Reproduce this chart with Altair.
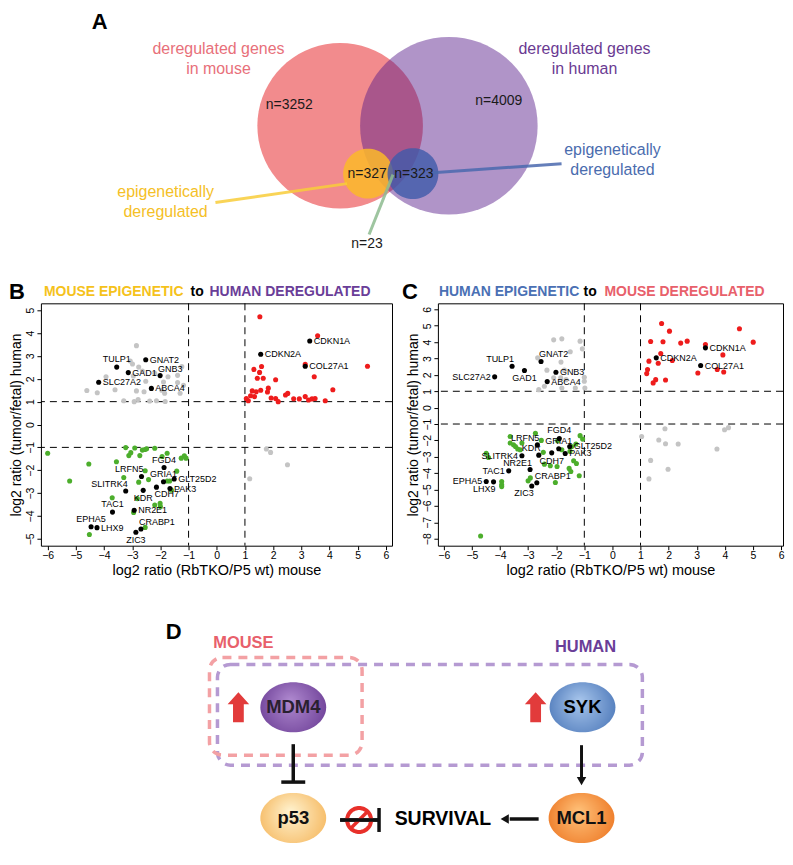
import math
import altair as alt
import pandas as pd

FONT = "Liberation Sans"

# ======================= DATA =======================
# ---- Panel A (Venn) ----
venn_labels = ["deregulated genes\nin mouse", "deregulated genes\nin human",
               "epigenetically\nderegulated", "epigenetically\nderegulated"]
venn_counts = ["n=3252", "n=4009", "n=327", "n=323"]
overlap_count = "n=23"

# ---- Panels B / C : labelled genes ----
genes = ["CDKN1A", "CDKN2A", "COL27A1", "TULP1", "GNAT2", "GAD1", "GNB3", "SLC27A2", "ABCA4",
         "FGD4", "LRFN5", "GRIA1", "GLT25D2", "PAK3", "SLITRK4", "KDR", "CDH7", "TAC1",
         "NR2E1", "CRABP1", "ZIC3", "EPHA5", "LHX9"]

B_gene_x = [3.30, 1.56, 3.14, -3.55, -2.52, -3.14, -2.01, -4.19, -2.32, -1.87, -2.67, -1.89,
            -1.51, -1.66, -3.23, -2.61, -2.14, -3.70, -2.93, -2.69, -2.87, -4.46, -4.25]
B_gene_y = [3.65, 3.07, 2.55, 2.51, 2.83, 2.27, 2.14, 1.85, 1.58, -1.88, -2.27, -2.50,
            -2.38, -2.80, -2.91, -2.88, -2.74, -3.83, -3.75, -4.57, -4.71, -4.47, -4.51]
B_label_pos = ["r", "r", "r", "u", "r", "r", "ur", "r", "r", "u", "ul", "u", "r", "r", "ul",
               "d", "dr", "u", "r", "ur", "d", "u", "r"]

C_gene_x = [3.31, 1.56, 3.14, -3.57, -2.54, -3.13, -2.01, -4.19, -2.32, -1.89, -2.67, -1.91,
            -1.52, -1.68, -3.22, -2.62, -2.16, -3.69, -2.93, -2.69, -2.87, -4.49, -4.23]
C_gene_y = [3.65, 3.04, 2.57, 2.53, 2.82, 2.27, 2.16, 1.88, 1.59, -1.88, -2.27, -2.51,
            -2.37, -2.80, -2.94, -2.90, -2.76, -3.86, -3.78, -4.59, -4.78, -4.51, -4.53]
C_label_pos = ["r", "r", "r", "ul", "ur", "d", "r", "l", "r", "u", "ul", "u", "r", "r", "l",
               "ul", "d", "l", "ul", "ur", "dl", "l", "dl"]

# ---- Panel B points ----
B_red_x = [1.53, 3.58, 3.14, 5.35, 1.32, 1.59, 1.52, 1.44, 1.65, 2.09, 3.46, 1.83, 1.26, 1.40,
           1.56, 1.80, 1.20, 1.34, 1.05, 1.12, 1.93, 2.09, 2.18, 2.44, 2.52, 2.73, 2.93, 3.14,
           3.26, 3.38, 3.49, 3.85, 4.12]
B_red_y = [4.71, 3.88, 2.63, 2.55, 2.41, 2.54, 2.28, 2.02, 2.02, 1.96, 2.09, 1.59, 1.47, 1.43,
           1.50, 1.42, 1.26, 1.22, 1.14, 1.04, 1.16, 1.14, 1.00, 1.29, 1.36, 1.13, 1.12, 1.22,
           1.07, 1.12, 1.14, 1.04, 1.52]
B_gray_x = [-2.85, -3.07, -2.99, -2.77, -2.64, -3.93, -2.96, -2.20, -1.73, -1.24, -1.39, -2.52,
            -1.89, -1.39, -1.18, -4.61, -4.24, -3.61, -2.85, -2.58, -1.95, -1.85, -1.30, -3.30,
            -2.93, -2.79, -2.38, -2.14, -1.83, 1.76, 1.91, 2.51, 1.17]
B_gray_y = [3.45, 2.78, 2.65, 2.51, 2.34, 2.09, 2.12, 2.24, 2.09, 2.53, 2.15, 1.89,
            1.86, 1.84, 1.72, 1.49, 1.39, 1.52, 1.47, 1.43, 1.50, 1.37, 1.37, 1.04,
            1.00, 1.09, 1.03, 1.04, 1.01, -1.07, -1.22, -1.76, -2.37]
B_green_x = [-6.0, -5.22, -4.54, -4.52, -3.71, -3.56, -3.30, -3.23, -3.12, -3.05, -2.91, -2.73,
             -2.64, -2.55, -2.49, -2.20, -2.77, -2.42, -2.54, -2.82, -2.95, -2.54, -2.20, -2.01,
             -2.00, -1.94, -1.76, -1.76, -1.67, -1.42, -1.61, -1.26, -1.15, -1.09]
B_green_y = [-1.26, -2.47, -1.73, -4.81, -3.20, -1.63, -2.32, -1.01, -1.36, -1.23, -1.03, -1.36,
             -1.12, -1.09, -1.06, -1.04, -2.52, -2.41, -2.02, -3.24, -3.85, -4.50, -3.52, -3.45,
             -3.59, -1.40, -1.26, -2.47, -2.47, -2.04, -2.87, -1.47, -1.37, -1.47]

# ---- Panel C points ----
C_red_x = [1.75, 2.03, 4.52, 1.36, 1.80, 2.43, 2.66, 5.01, 3.31, 3.93, 1.72, 1.30, 1.63, 2.13,
           1.25, 1.22, 3.04, 3.73, 3.96, 1.54, 1.45, 1.89]
C_red_y = [5.14, 4.67, 4.82, 4.04, 4.02, 3.94, 4.06, 4.00, 3.86, 3.22, 3.31, 2.84, 2.71, 2.88,
           2.33, 2.08, 2.12, 2.33, 2.18, 1.71, 1.51, 1.69]
C_gray_x = [-2.66, -2.09, -1.80, -1.50, -1.83, -1.15, -1.07, -2.33, -1.71, -2.09, -1.84, -1.65,
            -1.00, -1.00, -2.42, -2.62, -1.80, -1.32, -0.98,
            1.04, 1.87, 1.65, 1.89, 2.34, 1.36, 1.98, 1.30, 3.72, 3.99, 4.13]
C_gray_y = [3.04, 4.14, 4.20, 3.41, 2.78, 4.06, 3.59, 2.29, 2.29, 1.82, 1.82, 1.71,
            1.86, 1.61, 1.31, 1.10, 1.20, 1.20, 1.20,
            -1.76, -1.29, -1.98, -2.20, -2.22, -3.22, -3.76, -4.35, -2.53, -1.35, -1.22]
C_green_x = [-4.69, -4.49, -4.41, -3.64, -3.64, -3.52, -3.45, -3.37, -3.28, -3.22, -3.94, -3.94,
             -3.94, -3.00, -2.92, -2.74, -2.53, -2.46, -2.42, -2.21, -1.97, -2.03, -1.95, -1.80,
             -1.51, -1.45, -1.54, -1.48, -1.38, -1.28, -1.18, -1.15, -1.06, -1.30]
C_green_y = [-7.84, -2.78, -3.04, -1.76, -2.16, -2.27, -2.37, -2.53, -2.57, -2.16, -4.51, -4.71,
             -4.82, -4.47, -4.29, -1.57, -2.00, -2.73, -3.45, -3.55, -3.59, -4.57, -2.02, -2.57,
             -2.67, -2.37, -3.71, -3.90, -3.24, -3.41, -4.16, -1.71, -1.92, -2.22]

thresholds = [-1, 1]
x_ticks = list(range(-6, 7))
B_y_ticks = list(range(-5, 6))
C_y_ticks = list(range(-8, 7))

# ---- Panel D (pathway diagram) ----
D_nodes = ["MDM4", "SYK", "p53", "MCL1"]
D_groups = ["MOUSE", "HUMAN"]
D_outcome = "SURVIVAL"

# ======================= LAYOUT (diagram coordinates, page pixels) =======================
LEFT_EXT = 32          # width of the scatter panels' y-axis block (shared column origin)
A_X0, A_X1, A_Y0, A_Y1 = 8 + LEFT_EXT, 785, 8, 278
D_X0, D_X1, D_Y0, D_Y1 = 8 + LEFT_EXT, 785, 576, 848

venn_cx = [340, 449, 368, 413]
venn_cy = [124, 124, 172, 172]
venn_d = [166, 178, 50, 51]
venn_fill = ["#f28b8d", "#571c8a", "#fbb829", "#3f5aaa"]
venn_alpha = [1.0, 0.47, 0.85, 0.8]
venn_label_x = [218, 585, 165, 613]
venn_label_y = [47, 47, 190, 148]
venn_label_col = ["#e8707a", "#6a3a92", "#f5c026", "#4a6cae"]
count_x = [289, 499, 367, 414, 367]
count_y = [103, 99, 172, 172, 243]
leader_x = [347, 433, 393]
leader_y = [182, 171, 173]
leader_x2 = [215, 562, 369]
leader_y2 = [201, 162, 233]
leader_col = ["#f8cc3a", "#4a68ae", "#8dbb8f"]
letter_A_xy = (99, 20)

node_x = [293, 583, 293, 582]
node_y = [705, 705, 816, 816]
node_inner = ["#b08ad0", "#a8c6ec", "#fff3d0", "#ffc27a"]
node_outer = ["#6a3c94", "#4a76b8", "#f5b55a", "#ec7420"]
node_text_col = ["#2a2030", "#000000", "#111111", "#111111"]


def cx(f, x0, x1):
    return alt.X(f"{f}:Q", scale=alt.Scale(domain=[x0, x1], nice=False, zero=False), axis=None)


def cy(f, y0, y1):
    return alt.Y(f"{f}:Q", scale=alt.Scale(domain=[y0, y1], nice=False, zero=False, reverse=True), axis=None)


def ellipse_path(ry=1.0, n=72):
    pts = []
    for k in range(n):
        t = 2 * math.pi * k / n
        pts.append(f"{math.cos(t):.4f},{ry * math.sin(t):.4f}")
    return "M" + "L".join(pts) + "Z"


CIRCLE = ellipse_path(1.0)
ELL = ellipse_path(0.76)
ARROW_UP = "M-0.36,1L-0.36,-0.2L-0.72,-0.2L0,-1L0.72,-0.2L0.36,-0.2L0.36,1Z"

# ======================= PANEL A =======================
AX = lambda f: cx(f, A_X0, A_X1)
AY = lambda f: cy(f, A_Y0, A_Y1)
a_layers = []
for i in range(4):
    df = pd.DataFrame({"x": [venn_cx[i]], "y": [venn_cy[i]]})
    a_layers.append(alt.Chart(df).mark_point(
        shape=CIRCLE, filled=True, size=venn_d[i] ** 2, color=venn_fill[i], opacity=venn_alpha[i],
        strokeOpacity=0).encode(x=AX("x"), y=AY("y")))
for i in range(3):
    df = pd.DataFrame({"x": [leader_x[i]], "y": [leader_y[i]], "x2": [leader_x2[i]], "y2": [leader_y2[i]]})
    a_layers.append(alt.Chart(df).mark_rule(color=leader_col[i], strokeWidth=3, opacity=0.85,
                                            strokeCap="butt").encode(
        x=AX("x"), y=AY("y"), x2="x2:Q", y2="y2:Q"))
for i in range(4):
    df = pd.DataFrame({"x": [venn_label_x[i]], "y": [venn_label_y[i]], "t": [venn_labels[i]]})
    a_layers.append(alt.Chart(df).mark_text(
        font=FONT, fontSize=16, color=venn_label_col[i], lineBreak="\n", lineHeight=20,
        align="center", baseline="middle").encode(x=AX("x"), y=AY("y"), text="t:N"))
cnt_df = pd.DataFrame({"x": count_x, "y": count_y, "t": venn_counts + [overlap_count]})
a_layers.append(alt.Chart(cnt_df).mark_text(font=FONT, fontSize=14, color="#1a1a1a",
                                            align="center", baseline="middle").encode(
    x=AX("x"), y=AY("y"), text="t:N"))
a_layers.append(alt.Chart(pd.DataFrame({"x": [letter_A_xy[0]], "y": [letter_A_xy[1]], "t": ["A"]})).mark_text(
    font=FONT, fontSize=22, fontWeight="bold", color="black", baseline="middle").encode(
    x=AX("x"), y=AY("y"), text="t:N"))
panelA = alt.layer(*a_layers).properties(width=A_X1 - A_X0, height=A_Y1 - A_Y0,
                                         view=alt.ViewBackground(stroke="transparent"))

# ======================= PANELS B & C =======================
POS = {
    "r": dict(align="left", baseline="middle", dx=4, dy=0),
    "l": dict(align="right", baseline="middle", dx=-4, dy=0),
    "u": dict(align="center", baseline="middle", dx=0, dy=-8),
    "d": dict(align="center", baseline="middle", dx=0, dy=8),
    "ul": dict(align="right", baseline="middle", dx=2, dy=-7),
    "ur": dict(align="left", baseline="middle", dx=-2, dy=-7),
    "dl": dict(align="right", baseline="middle", dx=2, dy=7),
    "dr": dict(align="left", baseline="middle", dx=-2, dy=7),
}


def scatter(gray_x, gray_y, green_x, green_y, red_x, red_y, gx, gy, gpos,
            xdom, ydom, yticks, width, height, title_parts, letter):
    pts = pd.concat([
        pd.DataFrame({"x": gray_x, "y": gray_y, "g": "other"}),
        pd.DataFrame({"x": green_x, "y": green_y, "g": "down"}),
        pd.DataFrame({"x": red_x, "y": red_y, "g": "up"}),
        pd.DataFrame({"x": gx, "y": gy, "g": "labelled"}),
    ], ignore_index=True)
    lab = pd.DataFrame({"x": gx, "y": gy, "gene": genes, "pos": gpos})
    xs = alt.Scale(domain=xdom, nice=False, zero=False)
    ys = alt.Scale(domain=ydom, nice=False, zero=False)
    xax = alt.Axis(values=x_ticks, title="log2 ratio (RbTKO/P5 wt) mouse", grid=False, domain=False,
                   tickSize=4, tickColor="black", labelColor="black", labelFontSize=10.5,
                   labelPadding=1, labelFlush=False, labelOverlap=False, titleFontSize=14.5,
                   titleFontWeight="normal", titleColor="black", titlePadding=2, labelFont=FONT,
                   titleFont=FONT)
    yax = alt.Axis(values=yticks, title="log2 ratio (tumor/fetal) human", grid=False, domain=False,
                   tickSize=4, tickColor="black", labelColor="black", labelFontSize=10.5,
                   labelAngle=270, labelAlign="center", labelBaseline="bottom", labelPadding=1,
                   labelFlush=False, labelOverlap=False, titleFontSize=14,
                   titleFontWeight="normal", titleColor="black", titlePadding=2, labelFont=FONT,
                   titleFont=FONT)
    X = lambda: alt.X("x:Q", scale=xs, axis=xax)
    Y = lambda: alt.Y("y:Q", scale=ys, axis=yax)
    thr = pd.DataFrame({"x": thresholds, "y": thresholds})
    layers = [
        alt.Chart(thr).mark_rule(color="black", strokeWidth=1, strokeDash=[7, 5]).encode(x=X()),
        alt.Chart(thr).mark_rule(color="black", strokeWidth=1, strokeDash=[7, 5]).encode(y=Y()),
        alt.Chart(pts).mark_circle(size=26, opacity=1).encode(
            x=X(), y=Y(),
            color=alt.Color("g:N", legend=None, scale=alt.Scale(
                domain=["other", "down", "up", "labelled"],
                range=["#c4c4c4", "#4cae2c", "#ee1c1c", "#000000"]))),
    ]
    for code, st in POS.items():
        layers.append(alt.Chart(lab).transform_filter(alt.datum.pos == code).mark_text(
            font=FONT, fontSize=9, color="black", **st).encode(x=X(), y=Y(), text="gene:N"))
    for txt, col, px in title_parts:
        layers.append(alt.Chart(pd.DataFrame({"t": [txt]})).mark_text(
            font=FONT, fontSize=14, fontWeight="bold", color=col, align="left",
            baseline="middle").encode(x=alt.value(px), y=alt.value(-11), text="t:N"))
    layers.append(alt.Chart(pd.DataFrame({"t": [letter[0]]})).mark_text(
        font=FONT, fontSize=22, fontWeight="bold", color="black", align="center",
        baseline="middle").encode(x=alt.value(letter[1]), y=alt.value(-11), text="t:N"))
    return alt.layer(*layers).properties(width=width, height=height,
                                         view=alt.ViewBackground(stroke="black", strokeWidth=1))


panelB = scatter(B_gray_x, B_gray_y, B_green_x, B_green_y, B_red_x, B_red_y,
                 B_gene_x, B_gene_y, B_label_pos, [-6.24, 6.22], [-5.3, 5.3], B_y_ticks,
                 352, 243,
                 [("MOUSE EPIGENETIC", "#f5c21b", 3), ("to", "black", 150),
                  ("HUMAN DEREGULATED", "#6a3d98", 169)], ("B", -24))
panelC = scatter(C_gray_x, C_gray_y, C_green_x, C_green_y, C_red_x, C_red_y,
                 C_gene_x, C_gene_y, C_label_pos, [-6.21, 6.07], [-8.43, 6.37], C_y_ticks,
                 346, 243,
                 [("HUMAN EPIGENETIC", "#4a70b4", 1), ("to", "black", 146),
                  ("MOUSE DEREGULATED", "#e8606b", 167)], ("C", -28))

# ======================= PANEL D =======================
DX = lambda f: cx(f, D_X0, D_X1)
DY = lambda f: cy(f, D_Y0, D_Y1)

d_layers = []
boxes = pd.DataFrame({"x": [217, 209], "y": [662, 655], "x2": [643, 362], "y2": [763, 753],
                      "g": D_groups[::-1]})
for i, col in enumerate(["#b59ad2", "#f3a1a4"]):
    d_layers.append(alt.Chart(boxes.iloc[[i]]).mark_rect(
        fillOpacity=0, stroke=col, strokeWidth=3.5, strokeDash=[9, 7], cornerRadius=13).encode(
        x=DX("x"), y=DY("y"), x2="x2:Q", y2="y2:Q"))
glab = pd.DataFrame({"x": [243, 586], "y": [641, 645], "t": D_groups, "c": ["#e8606b", "#6a3d98"]})
for i in range(2):
    d_layers.append(alt.Chart(glab.iloc[[i]]).mark_text(
        font=FONT, fontSize=16.5, fontWeight="bold", color=glab.c[i], baseline="middle").encode(
        x=DX("x"), y=DY("y"), text="t:N"))
d_layers.append(alt.Chart(pd.DataFrame({"x": [173], "y": [630], "t": ["D"]})).mark_text(
    font=FONT, fontSize=22, fontWeight="bold", color="black", baseline="middle").encode(
    x=DX("x"), y=DY("y"), text="t:N"))
thick = pd.DataFrame({"x": [293, 281, 340, 379, 582, 539], "y": [742, 780, 818, 806, 743, 817],
                      "x2": [293, 305, 379, 379, 582, 510], "y2": [780, 780, 818, 830, 776, 817],
                      "w": [3.5, 3.5, 3.5, 3.5, 3, 3.5]})
d_layers.append(alt.Chart(thick).mark_rule(color="#111111", strokeCap="butt").encode(
    x=DX("x"), y=DY("y"), x2="x2:Q", y2="y2:Q", strokeWidth=alt.StrokeWidth("w:Q", scale=None)))
heads = pd.DataFrame({"x": [582, 505], "y": [779, 817], "s": ["triangle-down", "triangle-left"]})
for i in range(2):
    d_layers.append(alt.Chart(heads.iloc[[i]]).mark_point(
        shape=heads.s[i], filled=True, size=90, color="#111111", opacity=1).encode(
        x=DX("x"), y=DY("y")))
d_layers.append(alt.Chart(pd.DataFrame({"x": [359], "y": [818]})).mark_point(
    shape=CIRCLE, filled=False, size=576, stroke="#e8302a", strokeWidth=4, opacity=1).encode(
    x=DX("x"), y=DY("y")))
d_layers.append(alt.Chart(pd.DataFrame({"x": [351], "y": [826], "x2": [367], "y2": [810]})).mark_rule(
    color="#e8302a", strokeWidth=3.5).encode(x=DX("x"), y=DY("y"), x2="x2:Q", y2="y2:Q"))
d_layers.append(alt.Chart(pd.DataFrame({"x": [340], "y": [818], "x2": [379], "y2": [818]})).mark_rule(
    color="#111111", strokeWidth=3.5, strokeCap="butt").encode(x=DX("x"), y=DY("y"), x2="x2:Q", y2="y2:Q"))
d_layers.append(alt.Chart(pd.DataFrame({"x": [238, 536], "y": [705, 705]})).mark_point(
    shape=ARROW_UP, filled=True, size=900, color="#e23b3b", opacity=1).encode(x=DX("x"), y=DY("y")))
for i in range(4):
    grad = alt.RadialGradient(gradient="radial",
                              stops=[alt.GradientStop(offset=0, color=node_inner[i]),
                                     alt.GradientStop(offset=1, color=node_outer[i])],
                              x1=0.45, y1=0.4, r1=0, x2=0.5, y2=0.5, r2=0.6)
    d_layers.append(alt.Chart(pd.DataFrame({"x": [node_x[i]], "y": [node_y[i]]})).mark_point(
        shape=ELL, filled=True, size=4356, fill=grad, strokeOpacity=0, opacity=1).encode(
        x=DX("x"), y=DY("y")))
    d_layers.append(alt.Chart(pd.DataFrame({"x": [node_x[i]], "y": [node_y[i]], "t": [D_nodes[i]]})).mark_text(
        font=FONT, fontSize=18.5, fontWeight="bold", color=node_text_col[i], baseline="middle").encode(
        x=DX("x"), y=DY("y"), text="t:N"))
d_layers.append(alt.Chart(pd.DataFrame({"x": [443], "y": [817], "t": [D_outcome]})).mark_text(
    font=FONT, fontSize=19.5, fontWeight="bold", color="black", baseline="middle").encode(
    x=DX("x"), y=DY("y"), text="t:N"))
panelD = alt.layer(*d_layers).properties(width=D_X1 - D_X0, height=D_Y1 - D_Y0,
                                         view=alt.ViewBackground(stroke="transparent"))

row2 = alt.hconcat(panelB, panelC, spacing=8)
chart = alt.vconcat(panelA, row2, panelD, spacing=0).properties(padding=0).configure(font=FONT)

chart.save("out.html", embed_options={"renderer": "svg", "actions": False})
